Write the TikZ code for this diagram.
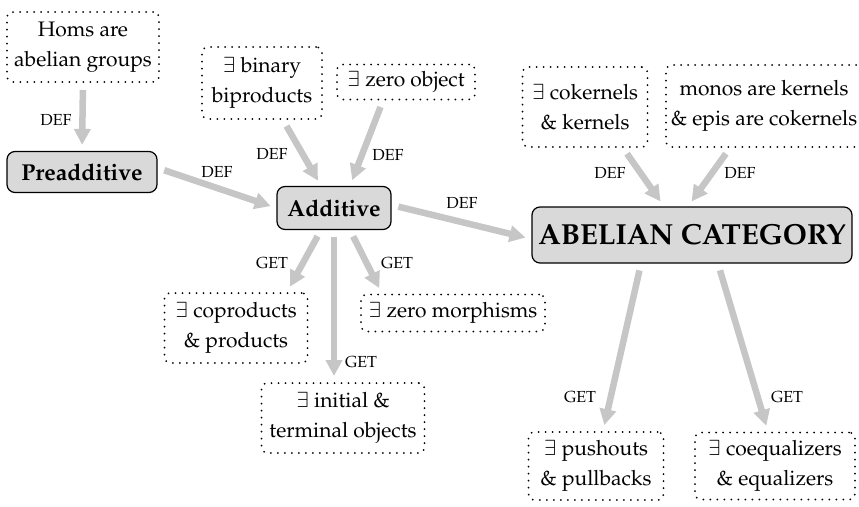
\documentclass[tikz,border=0pt]{standalone}
\usepackage[T1]{fontenc}
\usepackage{mathpazo}
\usetikzlibrary{arrows.meta,calc}

\begin{document}
\begin{tikzpicture}[x=1pt,y=-1pt,
  every node/.style={font=\fontsize{21}{30}\selectfont},
  base/.style={align=center, inner sep=2pt},
  mainbox/.style={base, draw, line width=1.2pt, rounded corners=8pt, fill=gray!30,
    font=\fontsize{23}{28}\selectfont\bfseries},
  dotbox/.style={base, draw, line width=2pt, line cap=round,
    dash pattern=on 0pt off 7pt, rounded corners=6pt},
  link/.style={draw=gray!45, line width=6.5pt,
    -{Triangle[length=16pt,width=16pt]}, shorten <=7pt, shorten >=6pt},
  tag/.style={font=\fontsize{16}{18}\selectfont, inner sep=0pt}]

\useasboundingbox (0,0) rectangle (859,506);

% premises of the definitions
\node[dotbox, minimum width=152pt, minimum height=70pt] (homs) at (83,47) {Homs are\\abelian groups};
\node[dotbox, minimum width=120pt, minimum height=72pt] (bip) at (262,83) {$\exists$ binary\\biproducts};
\node[dotbox, minimum width=138pt, minimum height=35pt] (zero) at (406,82) {$\exists$ zero object};
\node[dotbox, minimum width=125pt, minimum height=80pt] (coker) at (585,107) {$\exists$ cokernels\\\& kernels};
\node[dotbox, minimum width=196pt, minimum height=82pt] (monos) at (764,106) {monos are kernels\\\& epis are cokernels};

% the three kinds of category
\node[mainbox, minimum width=150pt, minimum height=41pt] (pre) at (82,172) {Preadditive};
\node[mainbox, minimum width=114pt, minimum height=43pt] (add) at (334,208) {Additive};
\node[mainbox, minimum width=320pt, minimum height=56pt,
  font=\fontsize{29}{34}\selectfont\bfseries] (ab) at (692,235) {ABELIAN CATEGORY};

% consequences
\node[dotbox, minimum width=143pt, minimum height=70pt] (coprod) at (236,328) {$\exists$ coproducts\\\& products};
\node[dotbox, minimum width=184pt, minimum height=37pt] (zmor) at (453,313) {$\exists$ zero morphisms};
\node[dotbox, minimum width=163pt, minimum height=70pt] (init) at (343,418) {$\exists$ initial \&\\terminal objects};
\node[dotbox, minimum width=135pt, minimum height=68pt] (push) at (596,466) {$\exists$ pushouts\\\& pullbacks};
\node[dotbox, minimum width=160pt, minimum height=67pt] (coeq) at (775,466) {$\exists$ coequalizers\\\& equalizers};

% definitional arrows
\draw[link] (homs.south) -- (pre.north);
\draw[link] ($(pre.east)+(0,-4)$) -- (add.west);
\draw[link] ($(bip.south)+(21,0)$) -- ($(add.north)+(-13,0)$);
\draw[link] ($(zero.south)+(-23,0)$) -- ($(add.north)+(16,0)$);
\draw[link] ($(add.east)+(0,-3)$) -- ($(ab.west)+(0,4)$);
\draw[link] ($(coker.south)+(38,0)$) -- ($(ab.north)+(-28,0)$);
\draw[link] ($(monos.south)+(-34,0)$) -- ($(ab.north)+(-4,0)$);

% consequence arrows
\draw[link] ($(add.south)+(-13,0)$) -- ($(coprod.north)+(51,0)$);
\draw[link] (add.south) -- ($(init.north)+(-9,0)$);
\draw[link] ($(add.south)+(16,0)$) -- ($(zmor.north)+(-71,0)$);
\draw[link] ($(ab.south)+(-51,0)$) -- ($(push.north)+(7,0)$);
\draw[link] ($(ab.south)+(26,0)$) -- ($(coeq.north)+(-7,0)$);

% arrow labels
\node[tag] (d1) at (56,120) {DEF};
\node[tag] (d2) at (217,172) {DEF};
\node[tag] (d3) at (272,154) {DEF};
\node[tag] (d4) at (388,155) {DEF};
\node[tag] (d5) at (462,203) {DEF};
\node[tag] (d6) at (610,173) {DEF};
\node[tag] (d7) at (740,173) {DEF};
\node[tag] (g1) at (272,263) {GET};
\node[tag] (g2) at (397,263) {GET};
\node[tag] (g3) at (361,362) {GET};
\node[tag] (g4) at (580,397) {GET};
\node[tag] (g5) at (787,397) {GET};
\end{tikzpicture}
\end{document}
